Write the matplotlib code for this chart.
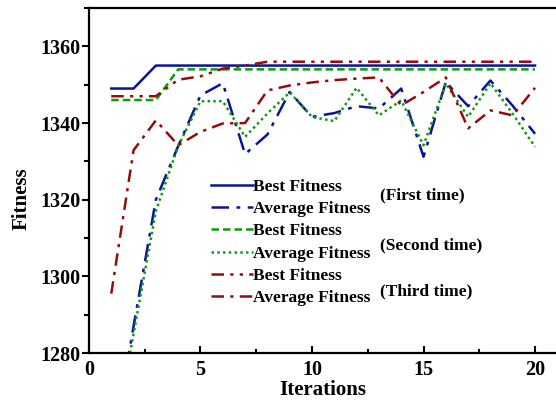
import matplotlib
matplotlib.use("Agg")
import matplotlib.pyplot as plt
from matplotlib.ticker import MultipleLocator

plt.rcParams['font.family'] = ['Liberation Serif', 'DejaVu Serif']
plt.rcParams['font.weight'] = 'bold'

iterations = list(range(1, 21))
best_first = [1349, 1349, 1355, 1355, 1355, 1355, 1355, 1355, 1355, 1355,
              1355, 1355, 1355, 1355, 1355, 1355, 1355, 1355, 1355, 1355]
avg_first = [1253, 1287, 1320, 1334, 1347.2, 1350.4, 1331.9, 1337, 1348.1, 1341.6,
             1342.6, 1344.4, 1343.8, 1349, 1331.2, 1350.7, 1344.4, 1351.1, 1344.5, 1337.2]
best_second = [1346, 1346, 1346, 1354, 1354, 1354, 1354, 1354, 1354, 1354,
               1354, 1354, 1354, 1354, 1354, 1354, 1354, 1354, 1354, 1354]
avg_second = [1253, 1285, 1317, 1334, 1345.7, 1345.7, 1336.4, 1342.5, 1348, 1341.6,
              1340.5, 1349.2, 1342, 1345.9, 1334.2, 1350.3, 1341.6, 1350.4, 1342.4, 1333.8]
best_third = [1347, 1347, 1347, 1351.3, 1352.2, 1354.2, 1355, 1356, 1356, 1356,
              1356, 1356, 1356, 1356, 1356, 1356, 1356, 1356, 1356, 1356]
avg_third = [1295.5, 1332.9, 1340.7, 1334.2, 1337.7, 1339.9, 1340, 1348.5, 1349.8, 1350.6,
             1351.2, 1351.6, 1351.9, 1344.6, 1348.1, 1351.9, 1338.6, 1343.3, 1342, 1349.2]

series_labels = ["Best Fitness", "Average Fitness"]
group_labels = ["(First time)", "(Second time)", "(Third time)"]

blue = '#0a1496'
green = '#119a11'
red = '#960c0c'

fig = plt.figure(figsize=(5.56, 4.03), dpi=100)
ax = fig.add_axes([0.160, 0.124, 0.840, 0.856])

lw = 1.8
ax.plot(iterations, best_first, color=blue, lw=lw, ls='-', label=series_labels[0])
ax.plot(iterations, avg_first, color=blue, lw=lw, ls=(0, (7, 3, 1.5, 3)), label=series_labels[1])
ax.plot(iterations, best_second, color=green, lw=lw, ls=(0, (3, 1.6)), label=series_labels[0])
ax.plot(iterations, avg_second, color=green, lw=lw, ls=(0, (1, 1.3)), label=series_labels[1])
ax.plot(iterations, best_third, color=red, lw=lw, ls=(0, (5, 2.5, 1.3, 2.5, 1.3, 2.5)), label=series_labels[0])
ax.plot(iterations, avg_third, color=red, lw=lw, ls=(0, (5, 2.5, 1.3, 2.5)), label=series_labels[1])

ax.set_xlim(0, 20.94)
ax.set_ylim(1280, 1370)
ax.xaxis.set_major_locator(MultipleLocator(5))
ax.xaxis.set_minor_locator(MultipleLocator(2.5))
ax.yaxis.set_major_locator(MultipleLocator(20))
ax.yaxis.set_minor_locator(MultipleLocator(10))
ax.tick_params(axis='x', which='both', direction='in', labelsize=14.5, width=1.5, pad=5)
ax.tick_params(axis='x', which='major', length=5)
ax.tick_params(axis='x', which='minor', length=3)
ax.tick_params(axis='y', which='both', direction='out', labelsize=14.5, width=1.5, pad=0.8)
ax.tick_params(axis='y', which='major', length=5)
ax.tick_params(axis='y', which='minor', length=3.5)
for lab in ax.get_xticklabels() + ax.get_yticklabels():
    lab.set_fontweight('bold')

for s in ['left', 'bottom', 'top']:
    ax.spines[s].set_linewidth(1.6)
ax.spines['right'].set_visible(False)

ax.set_xlabel("Iterations", fontsize=15, fontweight='bold', labelpad=0)
ax.set_ylabel("Fitness", fontsize=15, fontweight='bold')
ax.yaxis.set_label_coords(-0.122, 0.446)

leg = ax.legend(loc='upper left', bbox_to_anchor=(0.262, 0.505), frameon=False,
                prop={'family': 'Liberation Serif', 'weight': 'bold', 'size': 12.5},
                handlelength=2.4, handletextpad=0.0, labelspacing=0.35, borderpad=0,
                borderaxespad=0)

ys = [0.458, 0.313, 0.178]
for g, y in zip(group_labels, ys):
    ax.text(0.623, y, g, transform=ax.transAxes, fontsize=12.5, fontweight='bold',
            va='center', ha='left')

fig.savefig("out.png", dpi=100)
